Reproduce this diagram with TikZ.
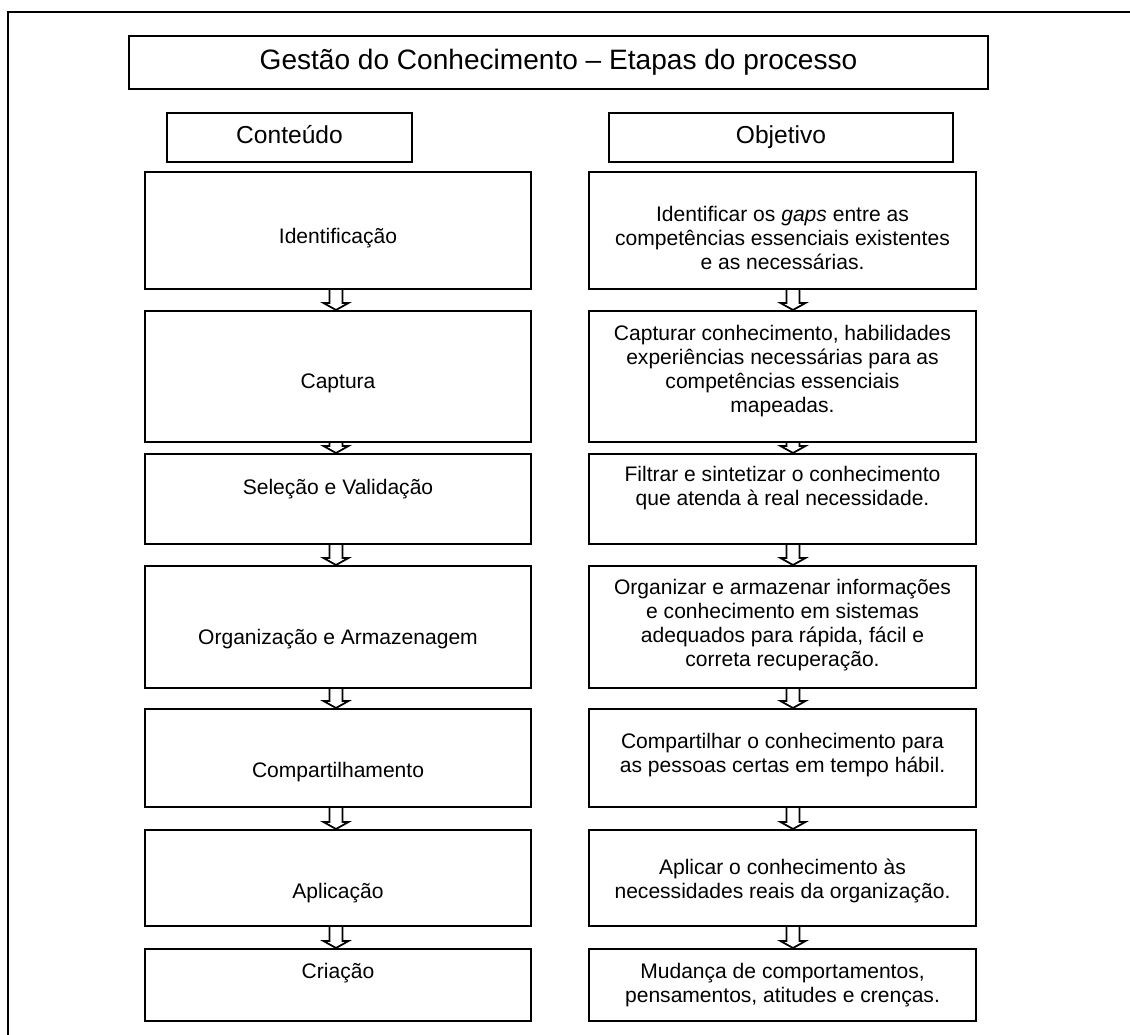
\documentclass[tikz,border=0pt]{standalone}
\usepackage{fontspec}
\setmainfont{Liberation Sans}
\usepackage{tikz}
\usetikzlibrary{calc}

\tikzset{
  box/.style={draw, line width=1pt, anchor=north, inner sep=2pt},
  lbox/.style={box, minimum width=220pt},
  rbox/.style={box, minimum width=220.6pt},
  head/.style={box, minimum height=27.9pt, text height=1.6ex, text depth=0.3ex, font=\fontsize{14}{16}\selectfont},
  frame/.style={draw, line width=1pt},
  hollow/.style={draw, line width=1pt, line join=miter}
}
\newcommand{\hollowarrow}[3][0]{%
  \draw[hollow] ($(#2.south)+(#1-6.5,0)$) -- ($(#3.north)+(#1-6.5,-7)$)
    -- ($(#3.north)+(#1-12.5,-7)$) -- ($(#3.north)+(#1,0)$)
    -- ($(#3.north)+(#1+12.5,-7)$) -- ($(#3.north)+(#1+6.5,-7)$)
    -- ($(#2.south)+(#1+6.5,0)$);}

\begin{document}
\begin{tikzpicture}[x=0.57pt, y=-0.57pt,
  every label/.style={font=\fontsize{12}{13.7}\selectfont, align=center}]
\path[use as bounding box, clip] (0,0) rectangle (1130,1035);
\draw[frame] (8,1100) -- (8,12) -- (1200,12);

\node[box, minimum width=489.6pt, minimum height=30.2pt, font=\fontsize{16}{19}\selectfont] (title) at (558.5,35) {Gestão do Conhecimento -- Etapas do processo};
\node[head, minimum width=139.7pt] (conteudo) at (289.5,112) {Conteúdo};
\node[head, minimum width=196.1pt] (objetivo) at (781,112) {Objetivo};

% conteudo
\node[lbox, minimum height=66.7pt, label={[yshift=-4.5pt]center:Identificação}] (identif) at (338,171) {};
\node[lbox, minimum height=74.7pt, label={[yshift=-4pt]center:Captura}] (captura) at (338,310) {};
\node[lbox, minimum height=51.3pt, label={[yshift=5.7pt]center:Seleção e Validação}] (selecao) at (338,453) {};
\node[lbox, minimum height=69.5pt, label={[yshift=-6.8pt]center:Organização e Armazenagem}] (organiz) at (338,565) {};
\node[lbox, minimum height=56pt, label={[yshift=-8pt]center:Compartilhamento}] (compart) at (338,708) {};
\node[lbox, minimum height=54.7pt, label={[yshift=-8.5pt]center:Aplicação}] (aplic) at (338,829) {};
\node[lbox, minimum height=41pt, label={[yshift=6.8pt]center:Criação}] (criacao) at (338,948) {};

% objetivo
\node[rbox, minimum height=66.7pt, label={[yshift=-4.5pt]center:{Identificar os \textit{gaps} entre as\\competências essenciais existentes\\e as necessárias.}}] (oidentif) at (782.5,171) {};
\node[rbox, minimum height=74.7pt, label={[yshift=2.8pt]center:{Capturar conhecimento, habilidades\\experiências necessárias para as\\competências essenciais\\mapeadas.}}] (ocaptura) at (782.5,310) {};
\node[rbox, minimum height=51.3pt, label={[yshift=6.3pt]center:{Filtrar e sintetizar o conhecimento\\que atenda à real necessidade.}}] (oselecao) at (782.5,453) {};
\node[rbox, minimum height=69.5pt, label={[yshift=1pt]center:{Organizar e armazenar informações\\e conhecimento em sistemas\\adequados para rápida, fácil e\\correta recuperação.}}] (oorganiz) at (782.5,565) {};
\node[rbox, minimum height=56pt, label={[yshift=1.5pt]center:{Compartilhar o conhecimento para\\as pessoas certas em tempo hábil.}}] (ocompart) at (782.5,708) {};
\node[rbox, minimum height=54.7pt, label={[yshift=-1.5pt]center:{Aplicar o conhecimento às\\necessidades reais da organização.}}] (oaplic) at (782.5,829) {};
\node[rbox, minimum height=41pt, label={center:{Mudança de comportamentos,\\pensamentos, atitudes e crenças.}}] (ocriacao) at (782.5,948) {};

\hollowarrow[-2]{identif}{captura}
\hollowarrow[-2]{captura}{selecao}
\hollowarrow[-2]{selecao}{organiz}
\hollowarrow[-2]{organiz}{compart}
\hollowarrow[-2]{compart}{aplic}
\hollowarrow[-2]{aplic}{criacao}
\hollowarrow[10.5]{oidentif}{ocaptura}
\hollowarrow[10.5]{ocaptura}{oselecao}
\hollowarrow[10.5]{oselecao}{oorganiz}
\hollowarrow[10.5]{oorganiz}{ocompart}
\hollowarrow[10.5]{ocompart}{oaplic}
\hollowarrow[10.5]{oaplic}{ocriacao}
\end{tikzpicture}
\end{document}
